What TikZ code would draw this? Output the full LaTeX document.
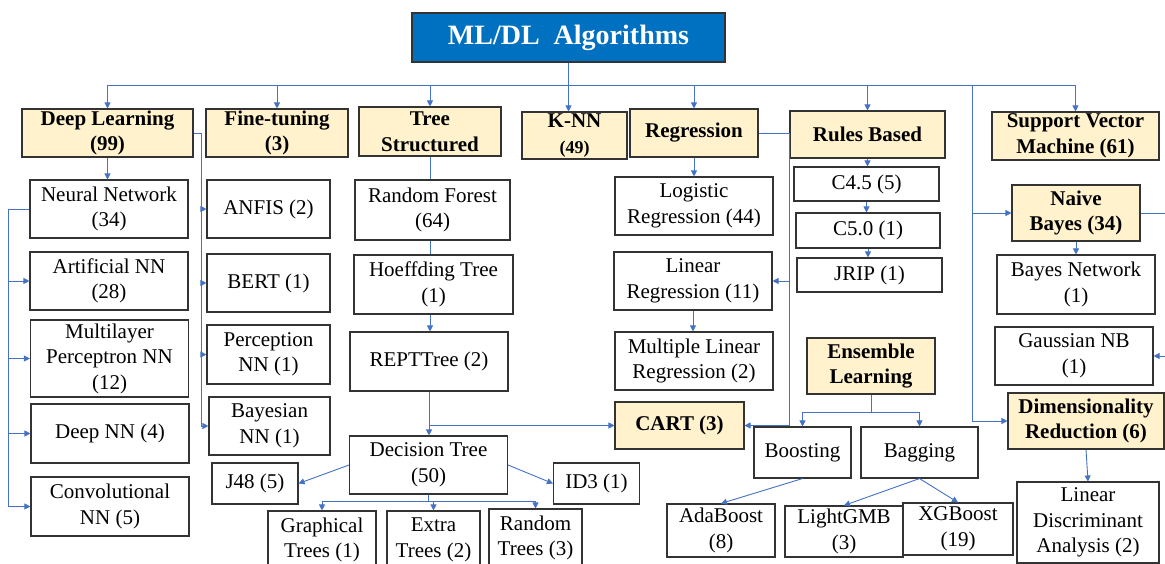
\documentclass[tikz,border=0pt]{standalone}
\usepackage{fontspec}
\setmainfont{Liberation Serif}
\usetikzlibrary{arrows.meta}
\definecolor{hdrfill}{HTML}{FFF2CC}
\definecolor{ttlfill}{HTML}{0070C0}
\definecolor{lnblue}{HTML}{4472C4}
\newcommand\fsz{\fontsize{21}{25.5}\selectfont}
\begin{document}
\begin{tikzpicture}[x=1pt,y=-1pt,
 box/.style={draw=black!80, line width=1.1pt, fill=white, align=center, inner sep=0pt, font=\fsz},
 hdr/.style={box, fill=hdrfill, font=\fsz\bfseries},
 conn/.style={draw=lnblue, line width=0.9pt},
 arr/.style={conn, -{Triangle[length=6pt,width=6pt]}},
 sz/.style 2 args={minimum width=#1pt, minimum height=#2pt}]
\useasboundingbox (0,0) rectangle (1165,563);
\clip (0,0) rectangle (1165,563);

% title
\node[box, fill=ttlfill, text=white, font=\fontsize{28}{32}\selectfont\bfseries, sz={313}{49}] (title) at (568.5,37.5) {ML/DL\hspace{0.5em}Algorithms};

% headers
\node[hdr, sz={171}{48}] (dl) at (107.5,133) {Deep Learning\\(99)};
\node[hdr, sz={142}{48}] (ft) at (277,133) {Fine-tuning\\(3)};
\node[hdr, sz={142}{49}] (tree) at (430,131.5) {Tree\\Structured};
\node[hdr, sz={105}{47}] (knn) at (574.5,135.5) {K-NN\\{\fontsize{18}{20}\selectfont(49)}};
\node[hdr, sz={128}{48}] (reg) at (694,133) {Regression};
\node[hdr, sz={155}{47}] (rules) at (867.5,134.5) {Rules Based};
\node[hdr, sz={167}{48}] (svm) at (1075.5,136) {Support Vector\\Machine (61)};

% deep learning column
\node[box, sz={158}{58}] (nn) at (109,209) {Neural Network\\(34)};
\node[box, sz={158}{58}] (ann) at (109,281) {Artificial NN\\(28)};
\node[box, sz={158}{77}] (mlp) at (109.5,358.5) {Multilayer\\Perceptron NN\\(12)};
\node[box, sz={158}{59}] (dnn) at (110,433.5) {Deep NN (4)};
\node[box, sz={158}{59}] (cnn) at (110,506.5) {Convolutional\\NN (5)};

% fine-tuning column
\node[box, sz={123}{58}] (anfis) at (268.5,209) {ANFIS (2)};
\node[box, sz={123}{58}] (bert) at (268.5,283) {BERT (1)};
\node[box, sz={123}{59}] (perc) at (268.5,354.5) {Perception\\NN (1)};
\node[box, sz={121}{58}] (bnn) at (269.5,426) {Bayesian\\NN (1)};

% tree column
\node[box, sz={155}{60}] (rf) at (432.5,210) {Random Forest\\(64)};
\node[box, sz={159}{59}] (hoef) at (433.5,284.5) {Hoeffding Tree\\(1)};
\node[box, sz={158}{59}] (rept) at (429,361.5) {REPTTree (2)};
\node[box, sz={158}{58}] (dt) at (428.5,465) {Decision Tree\\(50)};
\node[box, sz={86}{41}] (j48) at (255,483.5) {J48 (5)};
\node[box, sz={86}{41}] (id3) at (596.5,483.5) {ID3 (1)};
\node[box, sz={108}{58}] (graph) at (322,540) {Graphical\\Trees (1)};
\node[box, sz={93}{58}] (extra) at (433.5,540) {Extra\\Trees (2)};
\node[box, sz={93}{58}] (rtrees) at (535.5,538) {Random\\Trees (3)};

% regression column
\node[box, sz={158}{58}] (logr) at (694,206) {Logistic\\Regression (44)};
\node[box, sz={158}{58}] (linr) at (693,281) {Linear\\Regression (11)};
\node[box, sz={158}{58}] (mlr) at (694,361) {Multiple Linear\\Regression (2)};
\node[hdr, sz={129}{47}] (cart) at (679.5,425.5) {CART (3)};

% rules column
\node[box, sz={145}{34}] (c45) at (866.5,184) {C4.5 (5)};
\node[box, sz={144}{35}] (c50) at (868,230.5) {C5.0 (1)};
\node[box, sz={145}{34}] (jrip) at (869.5,275) {JRIP (1)};

% ensemble
\node[hdr, sz={128}{56}] (ens) at (871,366) {Ensemble\\Learning};
\node[box, sz={97}{51}] (boost) at (802.5,452.5) {Boosting};
\node[box, sz={117}{51}] (bag) at (919.5,452.5) {Bagging};
\node[box, sz={108}{53}] (ada) at (721,530.5) {AdaBoost\\(8)};
\node[box, sz={118}{51}] (lgbm) at (844,531.5) {LightGMB\\(3)};
\node[box, sz={110}{52}] (xgb) at (958,529) {XGBoost\\(19)};

% right column
\node[hdr, sz={128}{56}] (nb) at (1076,213) {Naive\\Bayes (34)};
\node[box, sz={158}{59}] (bn) at (1076,284.5) {Bayes Network\\(1)};
\node[box, sz={158}{58}] (gnb) at (1074,356) {Gaussian NB\\(1)};
\node[hdr, sz={156}{56}] (dr) at (1086,421) {Dimensionality\\Reduction (6)};
\node[box, sz={142}{81}] (lda) at (1088,522.5) {Linear\\Discriminant\\Analysis (2)};

% ---- connectors ----
\coordinate (bus) at (0,85);
\draw[conn] (dl.north |- bus) -- (svm.north |- bus);
\draw[arr] (title.south) -- (title.south |- knn.north);
\foreach \n in {dl,ft,tree,reg,rules,svm} \draw[arr] (\n.north |- bus) -- (\n.north);

% right vertical
\coordinate (vx) at (972,85);
\draw[arr] (vx) |- (nb.west);
\draw[arr] (vx) |- (dr.west);
\coordinate (nbr) at (1168,213);
\coordinate (gnr) at (1168,356);
\draw[conn] (nb.east) -- (nbr);
\draw[arr] (gnr) -- (gnb.east);
\draw[arr] (nb.south) -- (bn.north);
\draw[arr] (dr.south) -- (lda.north);

% deep learning
\draw[arr] (dl.south) -- (dl.south |- nn.north);
\coordinate (lx) at (8,0);
\foreach \n in {ann,mlp,dnn,cnn} \draw[arr] (nn.west) -- (nn.west -| lx) |- (\n.west);
\coordinate (fx) at (201,0);
\foreach \n in {anfis,bert,perc,bnn} \draw[arr] (dl.east) -- (dl.east -| fx) |- (\n.west);

% tree
\coordinate (tx) at (430,0);
\draw[conn] (tree.south) -- (tree.south |- rf.north);
\draw[conn] (tx |- rf.south) -- (tx |- hoef.north);
\draw[arr] (tx |- hoef.south) -- (tx |- rept.north);
\draw[arr] (rept.south) -- (rept.south |- dt.north);
\draw[arr] (rept.south) |- (cart.west);
\draw[arr] (dt.west) -- (j48.east);
\draw[arr] (dt.east) -- (id3.west);
\coordinate (dtb) at (0,501);
\foreach \n in {graph,extra,rtrees} \draw[arr] (dt.south) -- (dt.south |- dtb) -| (\n.north);

% regression
\coordinate (rx) at (789,0);
\draw[arr] (reg.south) -- (reg.south |- logr.north);
\draw[arr] (linr.south) -- (linr.south |- mlr.north);
\draw[arr] (reg.east) -- (reg.east -| rx) |- (linr.east);
\draw[arr] (reg.east) -- (reg.east -| rx) |- (cart.east);

% rules
\draw[arr] (rules.south) -- (rules.south |- c45.north);
\draw[arr] (c45.south) -- (c45.south |- c50.north);
\draw[arr] (c50.south) -- (c50.south |- jrip.north);

% ensemble
\coordinate (eb) at (0,412);
\draw[arr] (ens.south) -- (ens.south |- eb) -| (boost.north);
\draw[arr] (ens.south) -- (ens.south |- eb) -| (bag.north);
\draw[arr] (boost.south) -- (ada.north);
\draw[arr] (bag.south) -- (lgbm.north);
\draw[arr] (bag.south) -- (xgb.north);
\end{tikzpicture}
\end{document}
